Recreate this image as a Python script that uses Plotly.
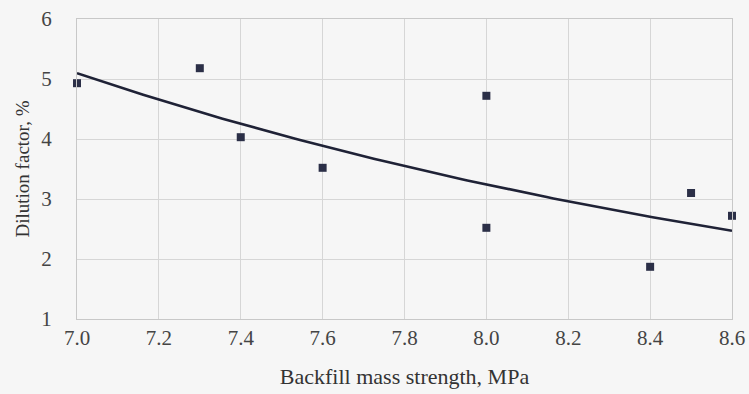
import numpy as np
import plotly.graph_objects as go

strength = [7.0, 7.3, 7.4, 7.6, 8.0, 8.0, 8.4, 8.5, 8.6]
dilution = [4.93, 5.18, 4.03, 3.52, 4.72, 2.52, 1.87, 3.10, 2.72]
x_ticks = [7.0, 7.2, 7.4, 7.6, 7.8, 8.0, 8.2, 8.4, 8.6]
y_ticks = [1, 2, 3, 4, 5, 6]

# Exponential trend line (least squares on log y)
b, ln_a = np.polyfit(strength, np.log(dilution), 1)
xf = np.linspace(min(strength), max(strength), 100)
yf = np.exp(ln_a + b * xf)

fig = go.Figure()
fig.add_trace(go.Scatter(x=xf, y=yf, mode="lines", cliponaxis=False,
                         line=dict(color="#1f2236", width=2.6), hoverinfo="skip"))
fig.add_trace(go.Scatter(x=strength, y=dilution, mode="markers", cliponaxis=False,
                         marker=dict(symbol="square", size=8, color="#2b2f47",
                                     line=dict(width=0))))

ff = "Liberation Serif"
fig.update_layout(
    width=749, height=394,
    margin=dict(l=77, r=17, t=19, b=75),
    paper_bgcolor="#f6f6f6", plot_bgcolor="#f6f6f6",
    showlegend=False,
    font=dict(family=ff, color="#333333", size=18),
)
fig.update_xaxes(
    range=[7.0, 8.6], tickvals=x_ticks, ticktext=[f"{v:.1f}" for v in x_ticks],
    automargin=False,
    showgrid=True, gridcolor="#d6d6d6", gridwidth=1,
    showline=True, linecolor="#c8c8c8", linewidth=1, mirror=True,
    zeroline=False, ticks="",
    tickfont=dict(family=ff, size=21, color="#444444"),
    title=dict(text="Backfill mass strength, MPa", font=dict(family=ff, size=22, color="#333333"),
               standoff=19),
)
fig.update_yaxes(
    range=[1, 6], tickvals=y_ticks, automargin=False,
    showgrid=True, gridcolor="#d6d6d6", gridwidth=1,
    showline=True, linecolor="#c8c8c8", linewidth=1, mirror=True,
    zeroline=False, ticks="", ticklabelstandoff=20,
    tickfont=dict(family=ff, size=21, color="#444444"),
    title=dict(text="Dilution factor, %", font=dict(family=ff, size=19, color="#333333"),
               standoff=6),
)

fig.write_html("out.html")
